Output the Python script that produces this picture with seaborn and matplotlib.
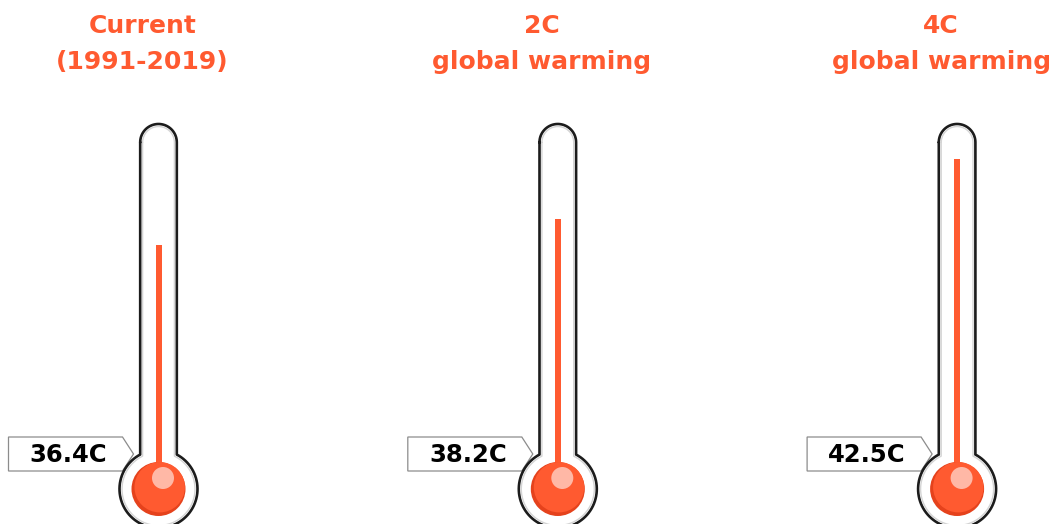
import numpy as np
import pandas as pd
import matplotlib
matplotlib.use('Agg')
import matplotlib.pyplot as plt
from matplotlib.patches import Circle, Polygon
import seaborn as sns

# Data
scenarios = ['Current\n(1991-2019)', '2C\nglobal warming', '4C\nglobal warming']
max_temps = [36.4, 38.2, 42.5]
temp_labels = ['36.4C', '38.2C', '42.5C']

# Style
RED = '#FF5A30'
RED_DARK = '#E5421C'
RED_LIGHT = '#FFB8A6'
FONT = 'DejaVu Sans'

# Layout (pixels)
W, H = 1054, 524
X0, STEP = 158.5, 399.3       # thermometer centres
BULB_Y = 489
PX_PER_DEG = 14.13            # vertical scale of the mercury column
REF_T, REF_PX = 39.03, 207.7


def px_to_temp(py):
    return REF_T - (py - REF_PX) / PX_PER_DEG


def outline(cx, hw, top, r):
    # tube with rounded top, joined onto the bulb circle
    t = np.linspace(np.pi, 0, 40)
    top_x = cx + hw * np.cos(t)
    top_y = top + hw - hw * np.sin(t)
    a = np.linspace(-np.arccos(hw / r), np.pi + np.arccos(hw / r), 160)
    bx = cx + r * np.cos(a)
    by = BULB_Y + r * np.sin(a)
    return np.concatenate([top_x, bx, top_x[:1]]), np.concatenate([top_y, by, top_y[:1]])


sns.set_style('white')
fig = plt.figure(figsize=(W / 100, H / 100), dpi=100)

# mercury columns: axes runs from the top of the figure down to the bulb centre
ax = fig.add_axes([0, 1 - BULB_Y / H, 1, BULB_Y / H], zorder=1)
df = pd.DataFrame({'scenario': scenarios, 'temp': max_temps})
sns.barplot(data=df, x='scenario', y='temp', color=RED, saturation=1,
            width=6 / STEP, linewidth=0, ax=ax)
ax.set_xlim(-X0 / STEP, (W - X0) / STEP)
ax.set_ylim(px_to_temp(BULB_Y), px_to_temp(0))
ax.axis('off')

# overlay in pixel units for the glass, bulbs and labels
ov = fig.add_axes([0, 0, 1, 1], zorder=2)
ov.set_xlim(0, W)
ov.set_ylim(H, 0)
ov.axis('off')

for i, (title, lab) in enumerate(zip(scenarios, temp_labels)):
    cx = X0 + i * STEP

    xs, ys = outline(cx, 18.3, 124, 39)
    ov.plot(xs, ys, color='#1c1c1c', lw=1.9, solid_joinstyle='round')
    xs, ys = outline(cx, 15.9, 126.5, 36.5)
    ov.plot(xs, ys, color='#d4d4d4', lw=1.0)

    # bulb
    ov.add_patch(Circle((cx, BULB_Y), 27, color=RED_DARK, lw=0))
    ov.add_patch(Circle((cx + 1.2, BULB_Y - 1.8), 25.2, color=RED, lw=0))
    ov.add_patch(Circle((cx + 4.5, BULB_Y - 11), 11, color=RED_LIGHT, lw=0))

    # value tag
    tag = [(cx - 150, 437), (cx - 36, 437), (cx - 25, 454), (cx - 36, 471), (cx - 150, 471)]
    ov.add_patch(Polygon(tag, closed=True, facecolor='white', edgecolor='#8c8c8c', lw=0.9))
    ov.text(cx - 90, 454.5, lab, ha='center', va='center', fontsize=17.5,
            fontweight='bold', color='black', family=FONT)

    # title
    for j, line in enumerate(title.split('\n')):
        ov.text(cx - 16, 33 + 35.5 * j, line, ha='center', va='baseline', fontsize=18,
                fontweight='bold', color=RED, family=FONT)

fig.savefig('out.png', dpi=100, facecolor='white')
